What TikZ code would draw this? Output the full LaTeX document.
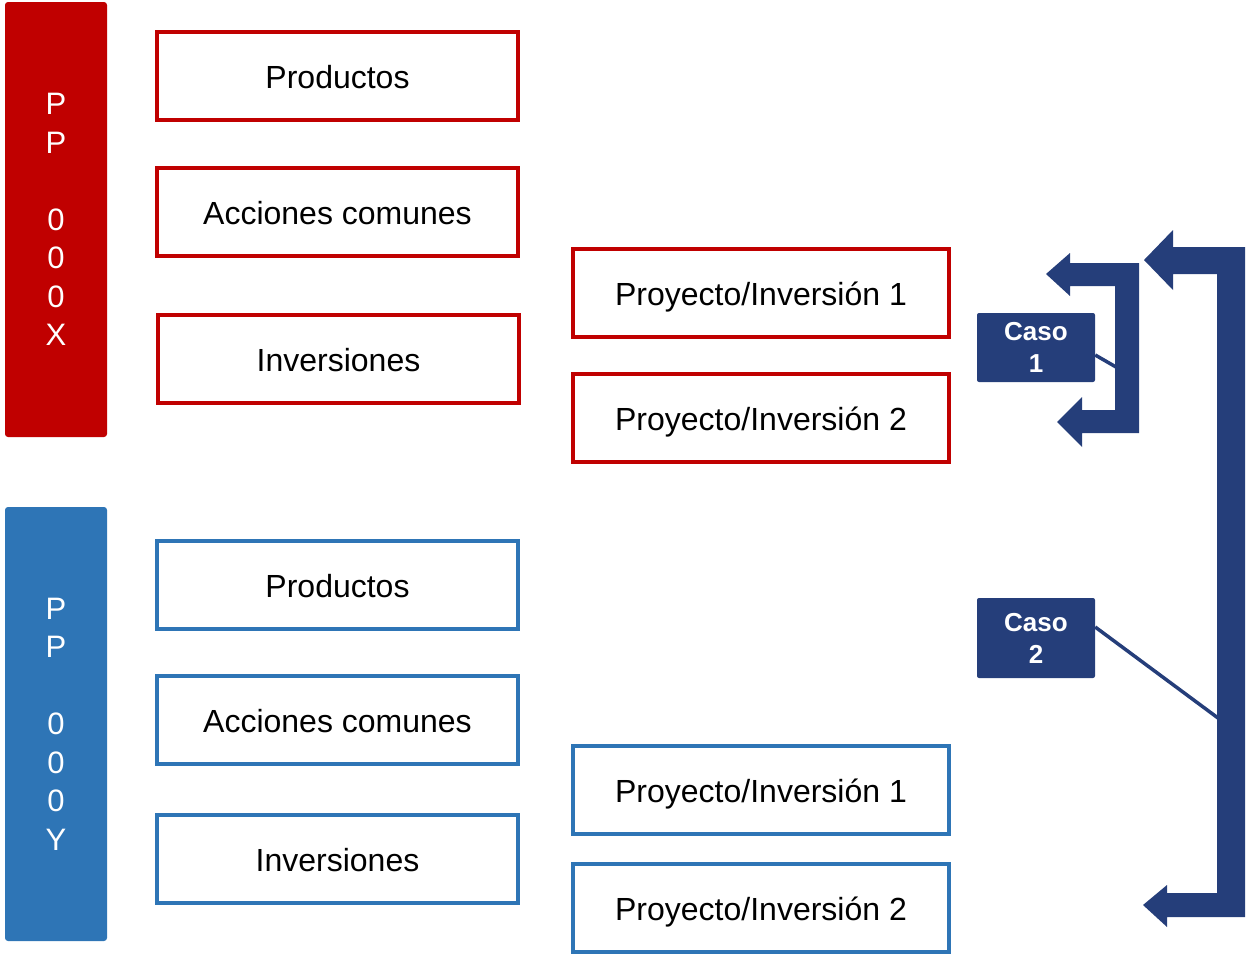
\documentclass[tikz,border=0pt]{standalone}
\usepackage{fontspec}
\setmainfont{Liberation Sans}
\definecolor{cred}{HTML}{C00000}
\definecolor{cblue}{HTML}{2E75B6}
\definecolor{cnavy}{HTML}{253E7A}
\tikzset{
  bar/.style={fill=#1, draw=none, rounded corners=3pt, minimum width=102pt, text=white,
    align=center, font=\fontsize{31}{38.5}\selectfont, inner sep=0pt},
  obox/.style={draw=#1, line width=4pt, fill=white, minimum height=88pt,
    font=\fontsize{32}{36}\selectfont, inner sep=0pt, text height=25pt, text depth=0pt},
  leftbox/.style={obox=#1, minimum width=361pt},
  rightbox/.style={obox=#1, minimum width=376pt},
  caso/.style={fill=cnavy, rounded corners=2pt, text=white, align=center,
    minimum width=118pt, font=\bfseries\fontsize{26}{32}\selectfont, inner sep=0pt},
  link/.style={draw=cnavy, line width=3.5pt},
  bigarrow/.style={fill=cnavy, draw=none}
}
\begin{document}
\begin{tikzpicture}[x=1pt,y=-1pt]
\useasboundingbox (0,0) rectangle (1251,959);
% bars
\node[bar=cred, minimum height=435pt] (barX) at (56,219.5) {P\\P\\\mbox{}\\0\\0\\0\\X};
\node[bar=cblue, minimum height=434pt] (barY) at (56,724) {P\\P\\\mbox{}\\0\\0\\0\\Y};
% red boxes
\node[leftbox=cred] (xprod) at (337.5,76) {Productos};
\node[leftbox=cred] (xacc) at (337.5,212) {Acciones comunes};
\node[leftbox=cred] (xinv) at (338.5,359) {Inversiones};
\node[rightbox=cred] (xp1) at (761,293) {Proyecto/Inversión 1};
\node[rightbox=cred] (xp2) at (761,418) {Proyecto/Inversión 2};
% blue boxes
\node[leftbox=cblue] (yprod) at (337.5,585) {Productos};
\node[leftbox=cblue] (yacc) at (337.5,720) {Acciones comunes};
\node[leftbox=cblue] (yinv) at (337.5,859) {Inversiones};
\node[rightbox=cblue] (yp1) at (761,789.5) {Proyecto/Inversión 1};
\node[rightbox=cblue] (yp2) at (761,907.5) {Proyecto/Inversión 2};
% caso boxes
\node[caso, minimum height=69pt] (caso1) at (1036,347.5) {Caso\\1};
\node[caso, minimum height=80pt] (caso2) at (1036,638) {Caso\\2};
% small bracket arrow
\fill[bigarrow] (1046,274) -- (1070,253) -- (1070,263) -- (1139,263) -- (1139,433)
  -- (1082,433) -- (1082,447) -- (1057,422) -- (1082,397) -- (1082,410)
  -- (1115,410) -- (1115,286) -- (1070,286) -- (1070,296) -- cycle;
% large bracket arrow
\fill[bigarrow] (1144,260) -- (1173,230) -- (1173,247) -- (1245,247) -- (1245,917)
  -- (1167,917) -- (1167,927) -- (1143,905) -- (1167,885) -- (1167,893)
  -- (1217,893) -- (1217,274) -- (1173,274) -- (1173,290) -- cycle;
% connectors
\coordinate (c1end) at (1116,367);
\coordinate (c2end) at (1218,718);
\draw[link] (caso1.east |- 0,355) -- (c1end);
\draw[link] (caso2.east |- 0,627) -- (c2end);
\end{tikzpicture}
\end{document}
